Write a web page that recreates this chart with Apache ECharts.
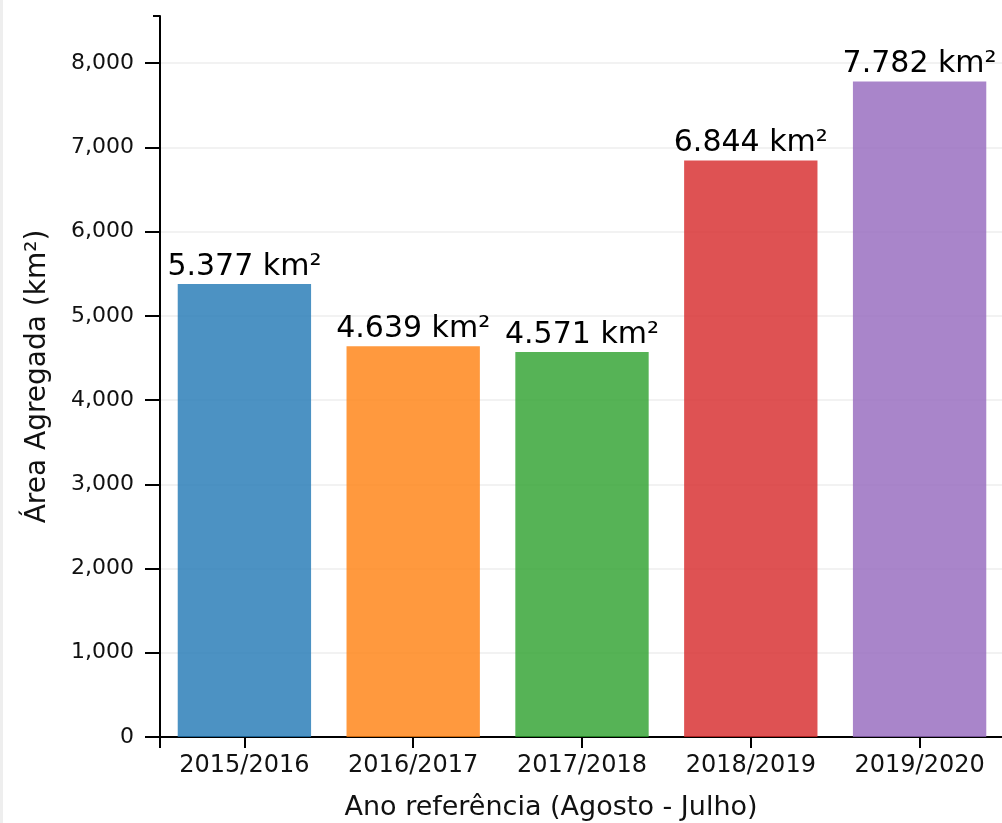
<!DOCTYPE html>
<html>
<head>
<meta charset="utf-8">
<script src="https://cdn.jsdelivr.net/npm/echarts@6/dist/echarts.min.js"></script>
<style>
html,body{margin:0;padding:0;background:#fff;}
#chart{position:absolute;left:0;top:0;width:1002px;height:823px;}
#edge{position:absolute;left:0;top:0;width:3px;height:823px;background:#eeeeee;z-index:5;}
</style>
</head>
<body>
<div id="chart"></div>
<div id="edge"></div>
<script>
const categories = ['2015/2016', '2016/2017', '2017/2018', '2018/2019', '2019/2020'];
const values = [5377, 4639, 4571, 6844, 7782];
const barColors = ['rgba(31,119,180,0.8)', 'rgba(255,127,14,0.8)', 'rgba(44,160,44,0.8)', 'rgba(214,39,40,0.8)', 'rgba(148,103,189,0.8)'];
const yTicks = [0, 1000, 2000, 3000, 4000, 5000, 6000, 7000, 8000];
const xTitle = 'Ano referência (Agosto - Julho)';
const yTitle = 'Área Agregada (km²)';

const yMax = Math.max(...values) * 1.1;
const fmtDot = v => String(v).replace(/\B(?=(\d{3})+(?!\d))/g, '.');
const fmtComma = v => String(v).replace(/\B(?=(\d{3})+(?!\d))/g, ',');
const FONT = 'DejaVu Sans';

const chart = echarts.init(document.getElementById('chart'), null, {renderer: 'canvas'});
chart.setOption({
  animation: false,
  grid: {left: 160, right: -2, top: 16, bottom: 86, containLabel: false, outerBoundsMode: 'none'},
  xAxis: [{
    type: 'category',
    data: categories,
    position: 'bottom',
    axisLine: {show: true, lineStyle: {color: '#000', width: 2}},
    axisTick: {show: true, alignWithLabel: true, interval: 0, length: 11, lineStyle: {color: '#000', width: 2}},
    axisLabel: {interval: 0, hideOverlap: false, color: '#111', fontFamily: FONT, fontSize: 24, margin: 17},
    name: xTitle,
    nameLocation: 'middle',
    nameGap: 57,
    nameTextStyle: {color: '#111', fontFamily: FONT, fontSize: 27, padding: [0, 62, 0, 0]}
  }, {
    type: 'value', min: 0, max: 1, position: 'bottom',
    axisLine: {show: false},
    axisTick: {show: true, customValues: [0], length: 11, lineStyle: {color: '#000', width: 2}},
    axisLabel: {show: false}, splitLine: {show: false}
  }],
  yAxis: [{
    type: 'value',
    min: 0,
    max: yMax,
    interval: 1000,
    axisLine: {show: true, lineStyle: {color: '#000', width: 2}},
    axisTick: {show: true, customValues: yTicks, length: 15, lineStyle: {color: '#000', width: 2}},
    axisLabel: {customValues: yTicks, color: '#111', fontFamily: FONT, fontSize: 22, margin: 26, formatter: v => fmtComma(v)},
    splitLine: {show: true, lineStyle: {color: '#eeeeee', width: 1.5}},
    name: yTitle,
    nameLocation: 'middle',
    nameGap: 108,
    nameTextStyle: {color: '#111', fontFamily: FONT, fontSize: 28}
  }, {
    type: 'value', min: 0, max: yMax, position: 'left',
    axisLine: {show: false},
    axisTick: {show: true, customValues: [yMax], length: 7, lineStyle: {color: '#000', width: 2}},
    axisLabel: {show: false}, splitLine: {show: false}
  }],
  series: [{
    type: 'bar',
    xAxisIndex: 0,
    yAxisIndex: 0,
    barCategoryGap: '21%',
    data: values.map((v, i) => ({value: v, itemStyle: {color: barColors[i]}})),
    label: {
      show: true,
      position: 'top',
      distance: 2,
      color: '#000',
      fontFamily: FONT,
      fontSize: 30,
      formatter: p => fmtDot(p.value) + ' km²'
    }
  }]
});
</script>
</body>
</html>
